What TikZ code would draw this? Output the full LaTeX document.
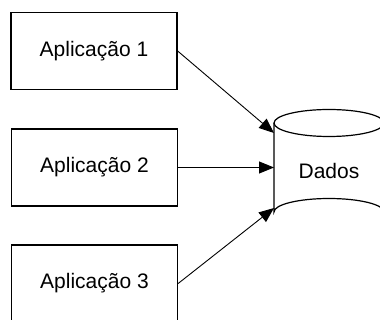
\documentclass[tikz,border=0pt]{standalone}
\usepackage{fontspec}
\setmainfont{Liberation Sans}
\usetikzlibrary{arrows.meta}
\begin{document}
\begin{tikzpicture}[x=1pt,y=-1pt,
  appbox/.style={draw, line width=1.3pt, minimum width=166pt, minimum height=77pt,
    inner sep=0pt, font=\fontsize{21}{25}\selectfont},
  link/.style={line width=0.9pt, -{Triangle[length=15pt,width=12pt]}},
  dbline/.style={line width=1.2pt}]
  \useasboundingbox (0,0) rectangle (380,320);
  \clip (0,0) rectangle (380,320);

  % application boxes
  \node[appbox] (a1) at (94,51) {Aplicação 1};
  \node[appbox] (a2) at (94.5,167.5) {Aplicação 2};
  \node[appbox] (a3) at (94.5,283.5) {Aplicação 3};

  % data store cylinder
  \draw[dbline] (329,123) ellipse [x radius=55, y radius=13.5];
  \draw[dbline] (274,123) -- (274,212) arc [start angle=180, end angle=360, x radius=55, y radius=13.5]
    -- (384,123);
  \node[font=\fontsize{21}{25}\selectfont] (dados) at (329,171) {Dados};

  % arrow targets on the cylinder wall
  \coordinate (t1) at (274,133);
  \coordinate (t2) at (274,167.5);
  \coordinate (t3) at (274,208);

  \draw[link] (a1.east) -- (t1);
  \draw[link] (a2.east) -- (t2);
  \draw[link] (a3.east) -- (t3);
\end{tikzpicture}
\end{document}
